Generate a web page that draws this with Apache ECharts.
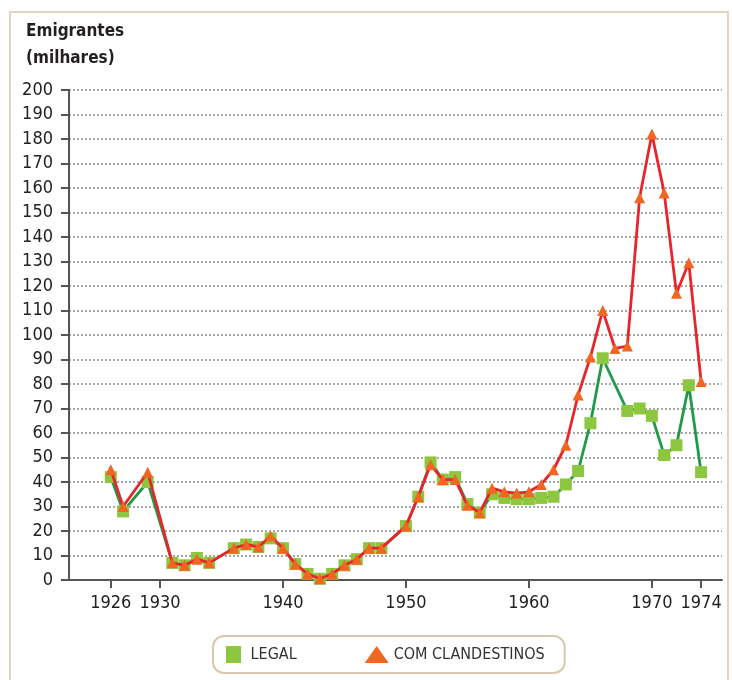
<!DOCTYPE html>
<html>
<head>
<meta charset="utf-8">
<script src="https://cdn.jsdelivr.net/npm/echarts@6/dist/echarts.min.js"></script>
<style>
html,body{margin:0;padding:0;background:#fff;}
#chart{width:732px;height:680px;}
</style>
</head>
<body>
<div id="chart"></div>
<script>
var FONT = "'Liberation Sans Narrow','DejaVu Sans Condensed','Roboto',sans-serif";

var xTickYears = [1926, 1930, 1940, 1950, 1960, 1970, 1974];
var yTicks = [0, 10, 20, 30, 40, 50, 60, 70, 80, 90, 100, 110, 120, 130, 140, 150, 160, 170, 180, 190, 200];

var legalYears = [1926,1927,1929,1931,1932,1933,1934,1936,1937,1938,1939,1940,1941,1942,1943,1944,1945,1946,1947,1948,1950,1951,1952,1953,1954,1955,1956,1957,1958,1959,1960,1961,1962,1963,1964,1965,1966,1968,1969,1970,1971,1972,1973,1974];
var legalValues = [42,28,40,7,6,9,7,13,14.5,13.5,17,13,6.5,2.5,0.5,2.5,6,8.5,13,13,22,34,48,41,42,31,27.5,35,33.5,33,33,33.5,34,39,44.5,64,90.5,69,70,67,51,55,79.5,44];

var clandYears = [1926,1927,1929,1931,1932,1933,1934,1936,1937,1938,1939,1940,1941,1942,1943,1944,1945,1946,1947,1948,1950,1951,1952,1953,1954,1955,1956,1957,1958,1959,1960,1961,1962,1963,1964,1965,1966,1967,1968,1969,1970,1971,1972,1973,1974];
var clandValues = [45,30,44,7,6,8.5,7,13,14.5,13.5,18,13,6.5,2.5,0.5,2.5,6,8.5,13,13,22,34,47,41,41,30.5,27.5,37.5,36,35.5,36,39,45,55,75.5,91,110,94.5,95.5,156,182,158,117,129.5,81];

var seriesNames = ['LEGAL', 'COM CLANDESTINOS'];

function zip(xs, ys) { return xs.map(function (x, i) { return [x, ys[i]]; }); }

var chart = echarts.init(document.getElementById('chart'), null, {renderer: 'canvas'});
chart.setOption({
  backgroundColor: '#ffffff',
  animation: false,
  graphic: [{
    type: 'rect', z: -10,
    shape: {x: 10, y: 12, width: 718, height: 720},
    style: {fill: 'none', stroke: '#e3d4c0', lineWidth: 2}
  }],
  title: {
    text: 'Emigrantes\n(milhares)',
    left: 21, top: 13,
    textStyle: {fontFamily: FONT, fontWeight: 'bold', fontSize: 17, color: '#231f20', lineHeight: 27}
  },
  legend: {
    left: 213, top: 636,
    padding: [10, 20, 10, 13],
    itemWidth: 24, itemHeight: 17,
    itemGap: 68,
    borderColor: '#d9c7ae', borderWidth: 2, borderRadius: 11,
    symbolKeepAspect: true,
    textStyle: {fontFamily: FONT, fontSize: 16, color: '#333'},
    data: [
      {name: seriesNames[0], icon: 'path://M0,0H16V18H0Z'},
      {name: seriesNames[1], icon: 'triangle'}
    ]
  },
  grid: {left: 69, right: 10, top: 90, bottom: 100, containLabel: false},
  xAxis: {
    type: 'value',
    min: 1922.6, max: 1975.7,
    splitLine: {show: false},
    axisLine: {show: true, lineStyle: {color: '#555', width: 2}},
    axisTick: {show: true, customValues: xTickYears, length: 8, lineStyle: {color: '#555', width: 2}},
    axisLabel: {
      customValues: xTickYears, margin: 14,
      fontFamily: FONT, fontSize: 18, color: '#222',
      formatter: function (v) { return String(v); }
    }
  },
  yAxis: {
    type: 'value',
    min: 0, max: 200, interval: 10,
    axisLine: {show: true, lineStyle: {color: '#555', width: 2}},
    axisTick: {show: true, length: 8, lineStyle: {color: '#555', width: 2}},
    axisLabel: {margin: 16, fontFamily: FONT, fontSize: 18, color: '#222'},
    splitLine: {show: true, lineStyle: {color: '#a8a8a8', width: 2, type: 'dotted'}}
  },
  series: [
    {
      name: seriesNames[0], type: 'line', z: 3,
      data: zip(legalYears, legalValues),
      symbol: 'rect', symbolSize: 12,
      itemStyle: {color: '#8dc63f'},
      lineStyle: {color: '#1f9a49', width: 2.8}
    },
    {
      name: seriesNames[1], type: 'line', z: 4,
      data: zip(clandYears, clandValues),
      symbol: 'triangle', symbolSize: 11,
      itemStyle: {color: '#f26522'},
      lineStyle: {color: '#e8252b', width: 2.8}
    }
  ]
});
</script>
</body>
</html>
